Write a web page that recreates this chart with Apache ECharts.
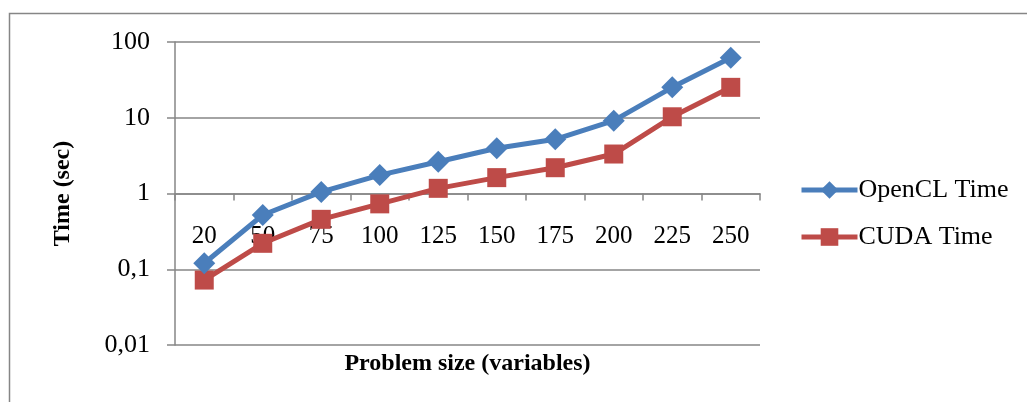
<!DOCTYPE html>
<html>
<head>
<meta charset="utf-8">
<script src="https://cdn.jsdelivr.net/npm/echarts@6/dist/echarts.min.js"></script>
<style>
html,body{margin:0;padding:0;background:#fff;}
#chart{width:1027px;height:402px;}
</style>
</head>
<body>
<div id="chart"></div>
<script>
const categories = ['20','50','75','100','125','150','175','200','225','250'];
const openclTime = [0.12, 0.52, 1.05, 1.75, 2.63, 3.95, 5.2, 9.15, 25.2, 62];
const cudaTime = [0.072, 0.22, 0.456, 0.73, 1.17, 1.62, 2.19, 3.32, 10.3, 25.2];
const seriesNames = ['OpenCL Time', 'CUDA Time'];
const yAxisTitle = 'Time (sec)';
const xAxisTitle = 'Problem size (variables)';

const FONT = 'Liberation Serif';
const GRAY = '#868686';
const gridTop = 42, gridHeight = 303;

const chart = echarts.init(document.getElementById('chart'), null, {renderer: 'canvas'});
chart.setOption({
  animation: false,
  backgroundColor: '#fff',
  graphic: [{
    type: 'rect', z: 100, silent: true,
    shape: {x: 9.5, y: 13.5, width: 1200, height: 600},
    style: {fill: 'none', stroke: GRAY, lineWidth: 1.5}
  }],
  grid: {left: 175, right: 267, top: gridTop, height: gridHeight, containLabel: false},
  legend: {
    orient: 'vertical', left: 794, top: 172,
    itemWidth: 56, itemHeight: 22, itemGap: 21,
    lineStyle: {width: 5},
    textStyle: {fontFamily: FONT, fontSize: 26, color: '#000', padding: [0,0,0,-4]},
    data: seriesNames
  },
  xAxis: {
    type: 'category', data: categories, boundaryGap: true,
    offset: -gridHeight / 2,
    axisLine: {onZero: false, lineStyle: {color: GRAY, width: 1.5}},
    axisTick: {show: true, inside: false, length: 7, alignWithLabel: false, lineStyle: {color: GRAY, width: 1.5}},
    axisLabel: {fontFamily: FONT, fontSize: 25, color: '#000', margin: 30},
    splitLine: {show: false},
    name: xAxisTitle, nameLocation: 'middle', nameGap: 158,
    nameTextStyle: {fontFamily: FONT, fontSize: 24, fontWeight: 'bold', color: '#000'}
  },
  yAxis: {
    type: 'log', logBase: 10, min: 0.01, max: 100,
    axisLine: {show: true, lineStyle: {color: GRAY, width: 1.5}},
    axisTick: {show: true, inside: false, length: 8, lineStyle: {color: GRAY, width: 1.5}},
    minorTick: {show: false},
    axisLabel: {
      fontFamily: FONT, fontSize: 26, color: '#000', margin: 25,
      formatter: v => String(Number(Number(v).toPrecision(6))).replace('.', ',')
    },
    splitLine: {show: true, lineStyle: {color: GRAY, width: 1.5}},
    name: yAxisTitle, nameLocation: 'middle', nameGap: 100, nameRotate: 90,
    nameTextStyle: {fontFamily: FONT, fontSize: 24, fontWeight: 'bold', color: '#000'}
  },
  series: [
    {
      name: seriesNames[0], type: 'line', data: openclTime,
      symbol: 'diamond', symbolSize: 22,
      itemStyle: {color: '#4A7EBB'},
      lineStyle: {color: '#4A7EBB', width: 5},
      z: 3
    },
    {
      name: seriesNames[1], type: 'line', data: cudaTime,
      symbol: 'rect', symbolSize: 19,
      itemStyle: {color: '#BE4B48'},
      lineStyle: {color: '#BE4B48', width: 5},
      z: 2
    }
  ]
});
</script>
</body>
</html>
